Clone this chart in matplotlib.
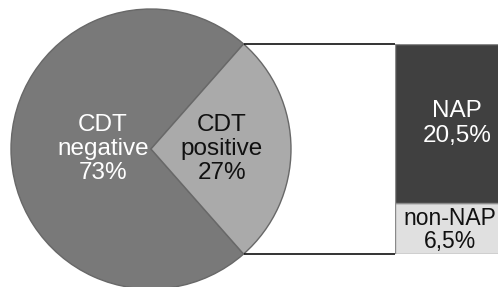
import numpy as np
import matplotlib.pyplot as plt

# Daten
cdt_labels = ['CDT\nnegative\n73%', 'CDT\npositive\n27%']
cdt_values = [73, 27]
nap_labels = ['NAP\n20,5%', 'non-NAP\n6,5%']
nap_values = [20.5, 6.5]

plt.rcParams['font.family'] = ['Liberation Sans', 'DejaVu Sans']

fig = plt.figure(figsize=(4.98, 2.87), dpi=100)
ax = fig.add_axes([0, 0, 1, 1])

# Kreisdiagramm (Pixel-Koordinaten, y nach oben)
cx, cy, r = 151, 138, 140
half = 360 * cdt_values[1] / sum(cdt_values) / 2
ax.pie(cdt_values, center=(cx, cy), radius=r, startangle=half,
       colors=['#797979', '#aaaaaa'],
       wedgeprops=dict(edgecolor='#686868', linewidth=1.0))
ax.set_xlim(0, 498)
ax.set_ylim(0, 287)
ax.set_aspect('equal')
ax.axis('off')

ax.text(cx - 48, cy, cdt_labels[0], color='white', fontsize=17.5,
        ha='center', va='center', linespacing=1.12)
ax.text(cx + 71, cy, cdt_labels[1], color='#111111', fontsize=17.5,
        ha='center', va='center', linespacing=1.12)

# Verbindungslinien zum Balken
th = np.radians(half)
x_conn = cx + r * np.cos(th)
y_top = cy + r * np.sin(th)
y_bot = cy - r * np.sin(th)
bar_x0, bar_w = 395, 140
ax.plot([x_conn, bar_x0], [y_top, y_top], color='#111111', lw=1.2,
        solid_capstyle='butt')
ax.plot([x_conn, bar_x0], [y_bot, y_bot], color='#111111', lw=1.2,
        solid_capstyle='butt')

# Gestapelter Balken
bax = fig.add_axes([bar_x0 / 498, y_bot / 287, bar_w / 498, (y_top - y_bot) / 287])
bax.bar(0, nap_values[1], width=1, color='#e0e0e0', edgecolor='#8a8a8a', lw=1)
bax.bar(0, nap_values[0], width=1, bottom=nap_values[1], color='#404040',
        edgecolor='#8a8a8a', lw=1)
bax.set_xlim(-0.5, 0.5)
bax.set_ylim(0, sum(nap_values))
bax.axis('off')
bax.text(-0.057, nap_values[1] + nap_values[0] / 2, nap_labels[0], color='white',
         fontsize=17.5, ha='center', va='center', linespacing=1.15)
bax.text(-0.107, nap_values[1] / 2 - 0.15, nap_labels[1], color='#111111',
         fontsize=16.5, ha='center', va='center', linespacing=1.0)

fig.savefig('out.png', dpi=100)
